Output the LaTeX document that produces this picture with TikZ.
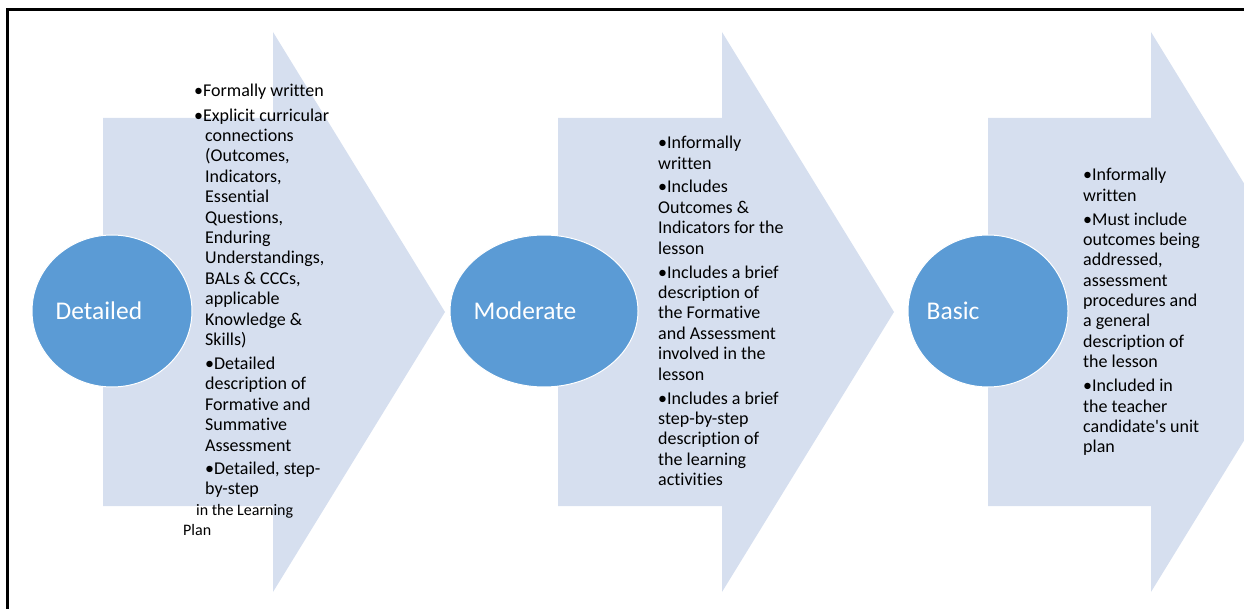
\documentclass[tikz,border=0pt]{standalone}
\usepackage{fontspec}
\setmainfont{Carlito}[Ligatures={NoCommon}]
\usepackage{tikz}
\usetikzlibrary{positioning, shapes.geometric}
\definecolor{stageblue}{HTML}{5B9BD5}
\definecolor{chevronfill}{HTML}{D6DFEF}

\begin{document}
\begin{tikzpicture}[x=1pt, y=-1pt,
    stage/.style={ellipse, fill=stageblue, draw=white, line width=1pt, minimum height=152pt, inner sep=0pt},
    stagename/.style={text=white, font=\fontsize{25.5}{30}\selectfont, inner sep=0pt},
    blurb/.style={align=left, anchor=north west, inner sep=0pt, font=\fontsize{18}{20.4}\selectfont}]
    \useasboundingbox (0,0) rectangle (1244,609);
    \clip (0,0) rectangle (1244,609);
    \draw[line width=3pt] (7,640) -- (7,10) -- (1270,10);

    % the three big chevrons
    \foreach \l/\h in {103/273, 558/722, 988/1151}
        \fill[chevronfill] (\l,118) -- (\h,118) -- (\h,32) -- (\h+172,312) -- (\h,592) -- (\h,506) -- (\l,506) -- cycle;

    \node[stage, minimum width=160pt] (detailed) at (112,311) {};
    \node[stage, minimum width=188pt] (moderate) at (544,311) {};
    \node[stage, minimum width=160pt] (basic) at (988,311) {};

    \node[stagename] (detailedname) [right = 24pt of detailed.west] {Detailed};
    \node[stagename] (moderatename) [right = 24pt of moderate.west] {Moderate};
    \node[stagename] (basicname) [right = 19pt of basic.west] {Basic};

    \node[blurb] (detailedtext) at (183,84) {%
        \hspace*{11pt}\textbullet Formally written\\[4pt]
        \hspace*{11pt}\textbullet Explicit curricular\\
        \hspace*{22pt}connections\\
        \hspace*{22pt}(Outcomes,\\
        \hspace*{22pt}Indicators,\\
        \hspace*{22pt}Essential\\
        \hspace*{22pt}Questions,\\
        \hspace*{22pt}Enduring\\
        \hspace*{22pt}Understandings,\\
        \hspace*{22pt}BALs \& CCCs,\\
        \hspace*{22pt}applicable\\
        \hspace*{22pt}Knowledge \&\\
        \hspace*{22pt}Skills)\\[3.5pt]
        \hspace*{22pt}\textbullet Detailed\\
        \hspace*{22pt}description of\\
        \hspace*{22pt}Formative and\\
        \hspace*{22pt}Summative\\
        \hspace*{22pt}Assessment\\[3pt]
        \hspace*{22pt}\textbullet Detailed, step-\\
        \hspace*{22pt}by-step\\
        \hspace*{13pt}{\fontsize{16}{20.4}\selectfont in the Learning}\\
        {\fontsize{16}{20.4}\selectfont Plan}};

    \node[blurb] (moderatetext) at (658,136) {%
        \textbullet Informally\\
        written\\[3.5pt]
        \textbullet Includes\\
        Outcomes \&\\
        Indicators for the\\
        lesson\\[3.5pt]
        \textbullet Includes a brief\\
        description of\\
        the Formative\\
        and Assessment\\
        involved in the\\
        lesson\\[3.5pt]
        \textbullet Includes a brief\\
        step-by-step\\
        description of\\
        the learning\\
        activities};

    \node[blurb] (basictext) at (1083,168) {%
        \textbullet Informally\\
        written\\[3.5pt]
        \textbullet Must include\\
        outcomes being\\
        addressed,\\
        assessment\\
        procedures and\\
        a general\\
        description of\\
        the lesson\\[3.5pt]
        \textbullet Included in\\
        the teacher\\
        candidate\textquotesingle s unit\\
        plan};
\end{tikzpicture}
\end{document}
